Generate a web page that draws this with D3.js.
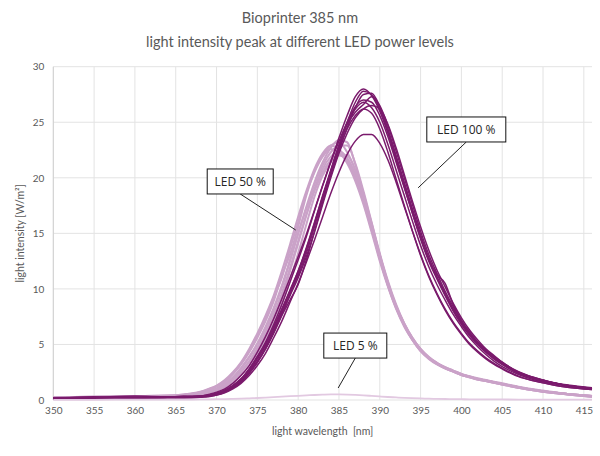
<!DOCTYPE html>
<html><head><meta charset="utf-8">
<script src="https://cdn.jsdelivr.net/npm/d3@7"></script>
<style>body{margin:0;background:#fff}svg{display:block}</style>
</head><body><svg id="c" width="600" height="456"></svg>
<script>
// ---- data ----
const titleLines = ["Bioprinter 385 nm", "light intensity peak at different LED power levels"];
const xTicks = [350,355,360,365,370,375,380,385,390,395,400,405,410,415];
const yTicks = [0,5,10,15,20,25,30];
const xLabel = "light wavelength  [nm]";
const yLabel = "light intensity [W/m²]";
const wavelength = [350,355,360,364,366,368,369,370,371,372,373,374,375,376,377,378,379,380,381,382,383,384,385,386,387,388,389,390,391,392,393,394,395,396,397,398,399,400,401,402,403,404,405,407,409,411,413,416];

const led100 = [
 [0.15,0.2,0.2,0.25,0.25,0.3,0.4,0.55,0.85,1.3,1.9,2.8,3.9,5.2,6.8,8.6,10.6,12.6,14.7,17.0,19.3,21.5,23.6,25.6,27.3,28.0,27.4,26.0,24.0,21.6,19.2,16.8,14.5,12.5,10.9,9.4,8.0,6.8,5.8,5.0,4.3,3.7,3.2,2.4,1.9,1.55,1.3,1.0],
 [0.1,0.3,0.15,0.2,0.2,0.25,0.3,0.45,0.7,1.1,1.6,2.4,3.4,4.6,6.0,7.6,9.0,10.4,12.6,15.2,17.8,20.2,22.4,24.5,26.3,27.5,27.6,26.4,24.4,22.0,19.6,17.2,14.9,12.8,11.1,9.6,8.2,7.0,6.0,5.1,4.4,3.8,3.3,2.45,1.95,1.6,1.3,1.05],
 [0.2,0.25,0.35,0.3,0.3,0.35,0.45,0.6,0.9,1.3,1.9,2.8,3.9,5.1,6.6,8.2,9.9,11.6,13.6,15.9,18.3,20.6,22.8,24.8,25.9,26.6,27.3,26.5,24.7,22.4,20.0,17.6,15.2,13.1,11.4,9.8,8.4,7.1,6.1,5.2,4.5,3.9,3.35,2.5,1.95,1.6,1.3,1.05],
 [0.15,0.2,0.25,0.3,0.3,0.35,0.5,0.7,1.0,1.5,2.2,3.1,4.3,5.7,7.3,9.1,11.0,12.9,14.9,17.1,19.3,21.4,23.3,25.0,26.2,26.8,26.3,25.0,23.0,20.7,18.4,16.1,13.9,12.0,10.4,9.0,7.7,6.6,5.6,4.8,4.1,3.5,3.0,2.3,1.8,1.5,1.25,1.0],
 [0.1,0.15,0.2,0.25,0.35,0.3,0.4,0.5,0.75,1.15,1.7,2.5,3.5,4.7,6.2,7.8,9.4,11.0,12.9,15.1,17.6,20.0,22.2,24.0,25.4,26.2,26.5,26.2,24.8,22.7,20.3,17.9,15.6,13.5,11.7,10.2,8.7,7.4,6.3,5.4,4.6,4.0,3.4,2.55,2.0,1.6,1.35,1.1],
 [0.2,0.2,0.25,0.25,0.3,0.3,0.4,0.55,0.8,1.2,1.8,2.6,3.7,4.9,6.4,8.0,9.8,11.6,13.7,16.0,18.4,20.7,22.9,24.9,26.4,27.0,26.8,25.6,23.7,21.4,19.1,16.8,14.6,12.6,11.3,10.5,8.6,7.2,6.1,5.2,4.5,3.9,3.4,2.5,2.0,1.6,1.3,1.05],
 [0.15,0.2,0.2,0.25,0.25,0.3,0.4,0.5,0.75,1.1,1.6,2.4,3.4,4.6,6.1,7.7,9.5,11.4,13.5,15.8,18.2,20.5,22.6,24.4,25.6,26.2,25.8,24.4,22.3,19.9,17.5,15.2,13.0,11.1,9.5,8.1,6.9,5.9,5.0,4.3,3.7,3.2,2.8,2.1,1.7,1.4,1.15,0.95],
 [0.1,0.15,0.2,0.2,0.2,0.25,0.35,0.45,0.65,1.0,1.5,2.2,3.1,4.2,5.6,7.1,8.8,10.5,12.4,14.4,16.5,18.6,20.5,22.1,23.3,23.9,23.9,23.1,21.6,19.6,17.4,15.2,13.1,11.2,9.6,8.2,7.0,6.0,5.1,4.4,3.8,3.3,2.85,2.15,1.7,1.4,1.15,0.95],
 [0.2,0.25,0.25,0.3,0.3,0.35,0.45,0.6,0.85,1.25,1.85,2.7,3.8,5.0,6.5,8.1,9.7,11.2,13.2,15.6,18.1,20.6,22.9,25.0,26.8,27.8,27.5,26.2,24.2,21.8,19.4,17.0,14.7,12.7,11.0,9.5,8.1,6.9,5.9,5.0,4.3,3.7,3.2,2.4,1.9,1.55,1.3,1.0]
];
const led50 = [
 [0.2,0.25,0.3,0.35,0.4,0.6,0.8,1.0,1.4,2.0,2.8,3.8,5.0,6.4,8.1,10.1,12.5,15.0,17.4,19.6,21.4,22.7,23.4,23.2,21.2,18.6,15.9,13.1,10.6,8.5,6.9,5.6,4.6,3.85,3.35,2.95,2.65,2.35,2.1,1.9,1.75,1.6,1.45,1.15,0.9,0.7,0.55,0.35],
 [0.25,0.3,0.35,0.4,0.5,0.75,1.0,1.3,1.8,2.5,3.4,4.6,6.0,7.6,9.4,11.6,14.0,16.5,18.8,20.8,22.2,22.9,22.6,21.5,19.9,17.8,15.3,12.7,10.3,8.3,6.7,5.4,4.45,3.75,3.25,2.85,2.55,2.25,2.05,1.85,1.7,1.55,1.4,1.1,0.85,0.65,0.5,0.3],
 [0.2,0.2,0.25,0.3,0.35,0.55,0.7,0.9,1.25,1.8,2.5,3.4,4.5,5.8,7.4,9.3,11.6,14.1,16.6,19.0,20.8,21.9,22.4,21.8,20.3,18.1,15.5,12.8,10.4,8.4,6.8,5.5,4.5,3.8,3.3,2.9,2.6,2.3,2.1,1.9,1.75,1.6,1.45,1.15,0.9,0.7,0.55,0.35],
 [0.2,0.3,0.3,0.35,0.45,0.7,0.9,1.2,1.6,2.3,3.2,4.3,5.6,7.1,8.9,11.2,13.1,15.6,18.4,20.6,22.0,22.9,23.2,22.3,20.7,18.4,15.8,13.0,10.5,8.4,6.8,5.5,4.5,3.8,3.3,2.9,2.6,2.3,2.1,1.9,1.75,1.6,1.45,1.15,0.9,0.7,0.55,0.35],
 [0.15,0.2,0.25,0.3,0.35,0.5,0.65,0.85,1.15,1.6,2.3,3.1,4.1,5.4,6.9,8.7,10.8,13.2,15.8,18.3,20.2,21.4,22.0,21.6,20.2,18.0,15.4,12.7,10.3,8.3,6.7,5.4,4.4,3.75,3.25,2.85,2.55,2.25,2.05,1.85,1.7,1.55,1.4,1.1,0.85,0.65,0.5,0.3],
 [0.2,0.25,0.3,0.35,0.4,0.6,0.8,1.05,1.45,2.05,2.9,3.9,5.1,6.6,8.3,10.3,12.6,15.0,17.2,19.4,21.1,22.3,22.9,22.9,21.3,18.8,16.0,13.2,10.7,8.6,6.9,5.6,4.6,3.9,3.35,2.95,2.65,2.35,2.15,1.95,1.8,1.65,1.5,1.2,0.95,0.75,0.55,0.35],
 [0.25,0.3,0.35,0.4,0.5,0.7,0.95,1.25,1.7,2.4,3.3,4.4,5.8,7.3,9.2,11.0,13.6,16.0,18.6,20.5,21.9,22.6,22.3,21.3,19.7,17.6,15.1,12.5,10.2,8.2,6.6,5.4,4.4,3.7,3.2,2.85,2.55,2.25,2.05,1.85,1.7,1.55,1.4,1.1,0.85,0.65,0.5,0.3],
 [0.2,0.25,0.3,0.3,0.35,0.55,0.7,0.95,1.3,1.85,2.6,3.5,4.7,6.1,7.7,9.6,11.9,14.3,16.7,18.8,20.5,21.6,22.1,22.0,20.7,18.4,15.7,13.0,10.5,8.4,6.8,5.5,4.5,3.8,3.3,2.9,2.6,2.3,2.1,1.9,1.75,1.6,1.45,1.15,0.9,0.7,0.55,0.35]
];
const led5 = [0.02,0.02,0.03,0.03,0.04,0.05,0.06,0.07,0.08,0.1,0.12,0.15,0.18,0.22,0.26,0.3,0.34,0.38,0.42,0.45,0.48,0.5,0.5,0.49,0.46,0.42,0.37,0.32,0.27,0.23,0.19,0.16,0.14,0.12,0.1,0.09,0.08,0.07,0.06,0.06,0.05,0.05,0.05,0.04,0.04,0.03,0.03,0.03];

// callouts: label, box centre (data), pointer end (data)
const calloutLabels = ["LED 50 %", "LED 100 %", "LED 5 %"];
const calloutBox = [[372.9,19.67],[400.6,24.35],[387.0,4.9]];
const calloutTip = [[379.7,15.3],[394.7,19.1],[384.9,1.08]];

// ---- chart ----
const svg = d3.select("#c");
const M = {l:53.3, r:8, t:66.7, b:56};
const W = 600, H = 456;
const x = d3.scaleLinear().domain([350,416]).range([M.l, W-M.r]);
const y = d3.scaleLinear().domain([0,30]).range([400, M.t]);
const font = "Lato, 'Open Sans', sans-serif";
const grey = "#595959";

svg.append("g").selectAll("text").data(titleLines).join("text")
  .attr("x", 300).attr("y", (d,i)=>23+i*23.5).attr("text-anchor","middle")
  .attr("font-family", font).attr("font-size", 14.5).attr("fill", grey).text(d=>d);

// grid
const g = svg.append("g");
g.selectAll(".vg").data(xTicks).join("line")
  .attr("x1", d=>x(d)).attr("x2", d=>x(d)).attr("y1", y(30)).attr("y2", y(0))
  .attr("stroke","#e3e3e3").attr("stroke-width",1);
g.selectAll(".hg").data(yTicks.filter(d=>d>0)).join("line")
  .attr("x1", x(350)).attr("x2", x(416)).attr("y1", d=>y(d)).attr("y2", d=>y(d))
  .attr("stroke","#e3e3e3").attr("stroke-width",1);
g.append("line").attr("x1", x(350)).attr("x2", x(350)).attr("y1", y(30)).attr("y2", y(0)).attr("stroke","#d0d0d0");
g.append("line").attr("x1", x(350)).attr("x2", x(416)).attr("y1", y(0)).attr("y2", y(0)).attr("stroke","#e3e3e3");

// tick labels
const xa = svg.append("g").attr("transform", `translate(0,${y(0)})`)
  .call(d3.axisBottom(x).tickValues(xTicks).tickSize(0).tickPadding(7));
const ya = svg.append("g").attr("transform", `translate(${x(350)},0)`)
  .call(d3.axisLeft(y).tickValues(yTicks).tickSize(0).tickPadding(9));
[xa,ya].forEach(a=>{ a.select(".domain").remove();
  a.selectAll("text").attr("font-family", font).attr("font-size", 10).attr("fill", grey); });

svg.append("text").attr("x", (x(350)+x(416))/2).attr("y", 435).attr("text-anchor","middle")
  .attr("font-family", font).attr("font-size", 10.5).attr("fill", grey).attr("xml:space","preserve").text(xLabel);
svg.append("text").attr("transform", `translate(24,${(y(0)+y(30))/2}) rotate(-90)`).attr("text-anchor","middle")
  .attr("font-family", font).attr("font-size", 10.5).attr("fill", grey).text(yLabel);

// curves
const line = d3.line().x((d,i)=>x(wavelength[i])).y(d=>y(d)).curve(d3.curveMonotoneX);
const cg = svg.append("g");
cg.selectAll(".l50").data(led50).join("path").attr("d", line)
  .attr("fill","none").attr("stroke","#caa2c8").attr("stroke-width",2);
cg.selectAll(".l100").data(led100).join("path").attr("d", line)
  .attr("fill","none").attr("stroke","#7a1a6c").attr("stroke-width",1.5);
cg.append("path").datum(led5).attr("d", line)
  .attr("fill","none").attr("stroke","#e2c9e1").attr("stroke-width",1.8);

// callouts
const bw = [66,79,63], bh = 25;
calloutLabels.forEach((lab,i)=>{
  const [bx,by] = calloutBox[i], [tx,ty] = calloutTip[i];
  const cx = x(bx), cy = y(by);
  svg.append("line").attr("x1", cx).attr("y1", cy + (ty<by ? bh/2 : -bh/2)).attr("x2", x(tx)).attr("y2", y(ty))
    .attr("stroke","#222").attr("stroke-width",1);
  svg.append("rect").attr("x", cx-bw[i]/2).attr("y", cy-bh/2).attr("width", bw[i]).attr("height", bh)
    .attr("fill","#fff").attr("stroke","#111").attr("stroke-width",1);
  svg.append("text").attr("x", cx).attr("y", cy+4.5).attr("text-anchor","middle")
    .attr("font-family", "'Open Sans', 'Liberation Sans', sans-serif").attr("font-size", 12).attr("fill","#262626").text(lab);
});
</script></body></html>
